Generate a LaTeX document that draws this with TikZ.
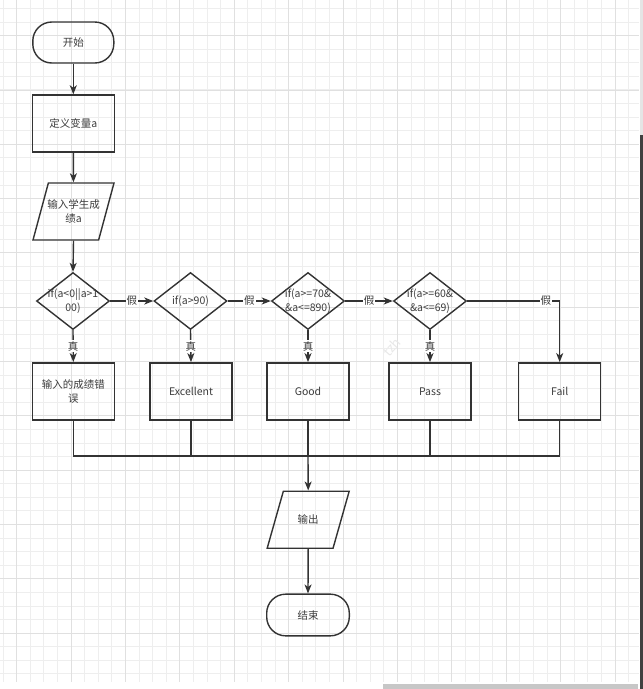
\documentclass[tikz,border=0pt]{standalone}
\usepackage{fontspec}
\newfontfamily\cjk{Noto Sans CJK SC}
\usetikzlibrary{shapes.geometric,arrows.meta,calc}
\definecolor{linec}{HTML}{333333}
\definecolor{textc}{HTML}{3C3C3C}
\definecolor{gridminor}{HTML}{EEEEEE}
\definecolor{gridmajor}{HTML}{E0E0E0}
\tikzset{
  base/.style={draw=linec, line width=1.4pt, font=\cjk\fontsize{10.5}{13.5}\selectfont, text=textc, align=center, inner sep=0pt},
  terminal/.style={base, rectangle, rounded corners=19pt, minimum width=81pt, minimum height=41pt},
  process/.style={base, rectangle, minimum width=82pt, minimum height=57pt},
  iobox/.style={base, inner sep=2pt, trapezium, trapezium left angle=73, trapezium right angle=107, trapezium stretches=true, minimum width=81pt, minimum height=57pt},
  decision/.style={base, diamond, minimum width=73pt, minimum height=57pt},
  intext/.style={font=\cjk\fontsize{10.5}{13.5}\selectfont, text=textc, align=center, inner sep=0pt},
  flow/.style={draw=linec, line width=1.4pt, -{Stealth[length=9pt,width=7pt,inset=2.5pt]}},
  conn/.style={draw=linec, line width=1.4pt},
  lbl/.style={font=\cjk\fontsize{10.5}{12}\selectfont, text=textc, fill=white, inner sep=1pt},
}
\begin{document}
\begin{tikzpicture}[x=1pt,y=-1pt]
\useasboundingbox (0,0) rectangle (643,689);
\fill[white] (0,0) rectangle (643,689);
% grid
\foreach \i in {0,...,46} {
  \pgfmathsetmacro\xx{3.1+13.6*\i}
  \draw[gridminor, line width=1pt] (\xx,0) -- (\xx,682);
}
\foreach \j in {0,...,49} {
  \pgfmathsetmacro\yy{8.5+13.58*\j}
  \draw[gridminor, line width=1pt] (0,\yy) -- (639,\yy);
}
\foreach \i in {0,...,11} {
  \pgfmathsetmacro\xx{16.7+54.4*\i}
  \draw[gridmajor, line width=1pt] (\xx,0) -- (\xx,682);
  \pgfmathsetmacro\yy{35.7+54.32*\i}
  \draw[gridmajor, line width=1pt] (0,\yy) -- (639,\yy);
}
% screenshot edges
\fill[black!10] (639.5,0) rectangle (643,135);
\fill[black!75] (639.5,135) rectangle (643,689);
\fill[black!22] (383,684) rectangle (638,689);
% watermark
\node[rotate=48, text=black!9, font=\cjk\fontsize{13}{13}\selectfont] (wm) at (392,347) {tzh};

% nodes
\node[terminal] (start) at (73.3,42.5) {开始};
\node[process] (def) at (73.3,123.5) {定义变量a};
\node[iobox] (in) at (73.5,211.5) {};
\node[intext] (intx) at (in.center) {输入学生成\\绩a};

\node[decision] (d1) at (73,301) {};
\node[intext] (d1t) at (d1.center) {if(a<0||a>1\\00)};
\node[decision] (d2) at (190.5,301) {};
\node[intext] (d2t) at (d2.center) {if(a>90)};
\node[decision] (d3) at (308,301) {};
\node[intext] (d3t) at (d3.center) {if(a>=70\&\\\&a<=890)};
\node[decision] (d4) at (430,301) {};
\node[intext] (d4t) at (d4.center) {if(a>=60\&\\\&a<=69)};

\node[process] (b1) at (73.3,391.3) {输入的成绩错\\误};
\node[process] (b2) at (191,391.3) {Excellent};
\node[process] (b3) at (308,391.3) {Good};
\node[process] (b4) at (430,391.3) {Pass};
\node[process] (b5) at (559.7,391.3) {Fail};

\coordinate (join) at (308,456);
\node[iobox, trapezium left angle=72, trapezium right angle=108, minimum width=82pt] (out) at (308.2,519.7) {};
\node[intext] (outt) at (out.center) {输出};
\node[terminal, minimum width=82.6pt, minimum height=41.7pt] (end) at (308,615) {结束};

% connectors
\draw[flow] (start) -- (def);
\draw[flow] (def) -- (in);
\draw[flow] (in.south) -- (d1.north);
\draw[flow] (d1.east) -- node[lbl] {假} (d2.west);
\draw[flow] (d2.east) -- node[lbl] {假} (d3.west);
\draw[flow] (d3.east) -- node[lbl] {假} (d4.west);
\draw[flow] (d4.east) -| node[lbl, pos=0.425] {假} (b5.north);
\draw[flow] (d1.south) -- node[lbl] {真} (b1.north);
\draw[flow] (d2.south) -- node[lbl] {真} (b2.north);
\draw[flow] (d3.south) -- node[lbl] {真} (b3.north);
\draw[flow] (d4.south) -- node[lbl] {真} (b4.north);
\draw[conn] (b1.south) |- (join);
\draw[conn] (b5.south) |- (join);
\draw[conn] (b2.south) -- (b2.south |- join);
\draw[conn] (b3.south) -- (join);
\draw[conn] (b4.south) -- (b4.south |- join);
\draw[flow] (join) -- (out.north);
\draw[flow] (out.south) -- (end.north);
\end{tikzpicture}
\end{document}
